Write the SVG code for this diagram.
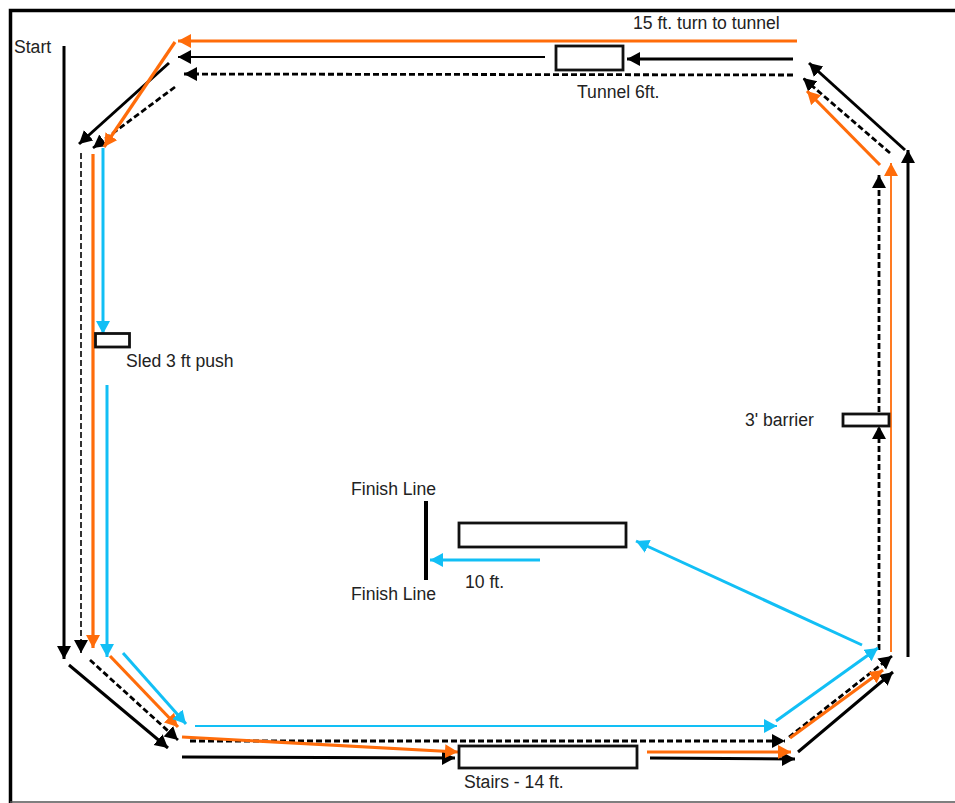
<svg xmlns="http://www.w3.org/2000/svg" width="955" height="803" viewBox="0 0 955 803">
<style>
text{font-family:"Liberation Sans",Arial,sans-serif;font-size:17.6px;fill:#222}
.box{fill:#fff;stroke:#111;stroke-width:2.800}
line{fill:none}
.k{stroke:#000;stroke-width:3;marker-end:url(#ak)}
.kt{stroke:#000;stroke-width:1.800;marker-end:url(#ak)}
.d{stroke:#000;stroke-width:2.800;stroke-dasharray:6 3;marker-end:url(#ak)}
.dt{stroke:#000;stroke-width:1.600;stroke-dasharray:6 3;marker-end:url(#ak)}
.o{stroke:#ff6c0a;stroke-width:3.200;marker-end:url(#ao)}
.ot{stroke:#ff6c0a;stroke-width:1.800;marker-end:url(#ao)}
.b{stroke:#12bff5;stroke-width:3;marker-end:url(#ab)}
.bt{stroke:#12bff5;stroke-width:1.800;marker-end:url(#ab)}
</style>
<defs>
<marker id="ak" markerUnits="userSpaceOnUse" markerWidth="15" markerHeight="15" refX="13" refY="7" orient="auto"><path d="M0,0L13,7L0,14z" fill="#000"/></marker>
<marker id="ao" markerUnits="userSpaceOnUse" markerWidth="15" markerHeight="15" refX="13" refY="7" orient="auto"><path d="M0,0L13,7L0,14z" fill="#ff6c0a"/></marker>
<marker id="ab" markerUnits="userSpaceOnUse" markerWidth="15" markerHeight="15" refX="13" refY="7" orient="auto"><path d="M0,0L13,7L0,14z" fill="#12bff5"/></marker>
</defs>
<rect width="955" height="803" fill="#fff"/>
<g id="frame">
<path d="M955,10.500H10.500V803" fill="none" stroke="#000" stroke-width="3.500"/>
<line x1="10" y1="802" x2="955" y2="802" stroke="#555" stroke-width="1.500"/>
</g>
<g id="connectors">
<line class="k" x1="64" y1="46" x2="64" y2="659"/>
<line class="k" x1="69" y1="665" x2="168" y2="748"/>
<line class="k" x1="182" y1="757" x2="455" y2="758"/>
<line class="k" x1="650" y1="758" x2="795" y2="759"/>
<line class="k" x1="798" y1="752" x2="893" y2="672"/>
<line class="k" x1="908" y1="657" x2="908" y2="150"/>
<line class="k" x1="905" y1="150" x2="809" y2="63"/>
<line class="k" x1="793" y1="59" x2="627" y2="59"/>
<line class="kt" x1="545" y1="57" x2="178" y2="57"/>
<line class="k" x1="169" y1="63" x2="79" y2="144"/>
<line class="d" x1="793" y1="75" x2="184" y2="74"/>
<line class="d" x1="175" y1="87" x2="93" y2="148"/>
<line class="dt" x1="81" y1="153" x2="81" y2="653"/>
<line class="d" x1="90" y1="660" x2="178" y2="740"/>
<line class="d" x1="190" y1="741" x2="785" y2="741"/>
<line class="d" x1="789" y1="737" x2="892" y2="656"/>
<line class="d" x1="879" y1="650" x2="879" y2="426"/>
<line class="d" x1="879" y1="412" x2="879" y2="175"/>
<line class="d" x1="890" y1="153" x2="803" y2="78"/>
<line class="o" x1="797" y1="41" x2="178" y2="41"/>
<line class="o" x1="175" y1="42" x2="104" y2="147"/>
<line class="o" x1="93" y1="154" x2="93" y2="648"/>
<line class="o" x1="110" y1="656" x2="178" y2="727"/>
<line class="o" x1="182" y1="737" x2="458" y2="752"/>
<line class="o" x1="647" y1="752" x2="791" y2="752"/>
<line class="o" x1="790" y1="738" x2="883" y2="670"/>
<line class="ot" x1="891" y1="652" x2="891" y2="163"/>
<line class="o" x1="880" y1="165" x2="807" y2="91"/>
<line class="b" x1="103" y1="148" x2="103" y2="334"/>
<line class="b" x1="107" y1="385" x2="107" y2="657"/>
<line class="b" x1="123" y1="653" x2="186" y2="724"/>
<line class="bt" x1="195" y1="726" x2="777" y2="726"/>
<line class="b" x1="776" y1="721" x2="878" y2="648"/>
<line class="b" x1="862" y1="645" x2="636" y2="541"/>
<line class="b" x1="540" y1="560" x2="430" y2="560"/>
</g>
<g id="start"><text x="14" y="53">Start</text></g>
<g id="turn"><text x="633" y="29">15 ft. turn to tunnel</text></g>
<g id="tunnel"><rect class="box" x="556" y="46" width="67" height="24"/><text x="577" y="98">Tunnel 6ft.</text></g>
<g id="sled"><rect class="box" x="95.500" y="333.500" width="34" height="13.500"/><text x="126" y="367">Sled 3 ft push</text></g>
<g id="barrier"><rect class="box" x="843" y="414" width="46" height="12"/><text x="745" y="426">3' barrier</text></g>
<g id="finish"><text x="351" y="495">Finish Line</text><line x1="426" y1="501" x2="426" y2="580" stroke="#000" stroke-width="4"/><text x="351" y="600">Finish Line</text></g>
<g id="ten"><rect class="box" x="459" y="523" width="167" height="24"/><text x="465" y="588">10 ft.</text></g>
<g id="stairs"><rect class="box" x="459" y="746" width="178" height="22"/><text x="464" y="788">Stairs - 14 ft.</text></g>
</svg>
